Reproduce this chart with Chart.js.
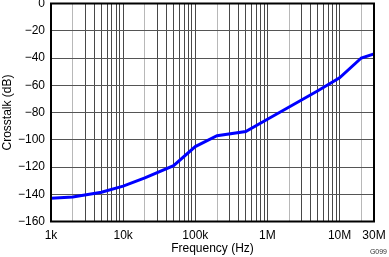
<!DOCTYPE html>
<html>
<head>
<meta charset="utf-8">
<script src="https://cdn.jsdelivr.net/npm/chart.js@4"></script>
<style>
  html, body { margin: 0; padding: 0; background: #fff; }
  #wrap { position: relative; width: 389px; height: 257px; }
</style>
</head>
<body>
<div id="wrap"><canvas id="chart" width="389" height="257"></canvas></div>
<script>
// crosstalk vs frequency
const freqs = [1e3, 2e3, 5e3, 1e4, 2e4, 5e4, 1e5, 2e5, 5e5, 1e6, 2e6, 5e6, 1e7, 2e7, 3e7];
const crosstalk = [-143, -142, -138.5, -134, -128, -119, -105, -97, -94, -85, -76, -64, -54.5, -40, -37];

const xTickValues = [1e3, 1e4, 1e5, 1e6, 1e7, 3e7];
const xTickLabels = ['1k', '10k', '100k', '1M', '10M', '30M'];

// grid lines at every 1..9 step of each decade
const gridFreqs = [];
for (let d = 1e3; d < 3e7; d *= 10) {
    for (let m = 1; m <= 9; m++) {
        if (d * m <= 3e7) gridFreqs.push(d * m);
    }
}
if (gridFreqs.indexOf(3e7) < 0) gridFreqs.push(3e7);

function mantissa(v) {
    const p = Math.pow(10, Math.floor(Math.log10(v) + 1e-9));
    return Math.round(v / p);
}

const frame = {
    id: 'frame',
    afterDraw(chart) {
        const c = chart.ctx, a = chart.chartArea;
        c.save();
        c.strokeStyle = '#000';
        c.lineWidth = 2;
        c.strokeRect(a.left, a.top, a.right - a.left, a.bottom - a.top);
        c.fillStyle = '#333';
        c.font = '7px "Liberation Sans", Arial, sans-serif';
        c.textAlign = 'right';
        c.textBaseline = 'middle';
        c.fillText('G099', 387, 252);
        c.restore();
    }
};

const ctx = document.getElementById('chart').getContext('2d');
const chart = new Chart(ctx, {
    type: 'line',
    data: {
        datasets: [{
            data: freqs.map((f, i) => ({x: f, y: crosstalk[i]})),
            borderColor: '#0000ff',
            borderWidth: 3,
            pointRadius: 0,
            tension: 0,
            fill: false
        }]
    },
    options: {
        responsive: false,
        animation: false,
        layout: {padding: {left: 0, right: 15, top: 3.5, bottom: 0}},
        plugins: {legend: {display: false}, tooltip: {enabled: false}},
        scales: {
            x: {
                type: 'logarithmic',
                min: 1e3,
                max: 3e7,
                afterBuildTicks: s => { s.ticks = gridFreqs.map(v => ({value: v})); },
                afterFit: s => { s.height = 35.5; s.paddingLeft = 0; s.paddingRight = 0; },
                ticks: {
                    autoSkip: false,
                    maxRotation: 0,
                    padding: 7,
                    color: '#000',
                    font: {family: '"Liberation Sans", Arial, sans-serif', size: 12},
                    callback: v => {
                        const i = xTickValues.indexOf(v);
                        return i >= 0 ? xTickLabels[i] : '';
                    }
                },
                grid: {
                    drawTicks: false,
                    lineWidth: 1,
                    color: c => (c.tick && mantissa(c.tick.value) === 2) ? '#b8b8b8' : '#484848'
                },
                border: {display: false},
                title: {
                    display: true,
                    text: 'Frequency (Hz)',
                    color: '#000',
                    padding: {top: 0, bottom: 1},
                    font: {family: '"Liberation Sans", Arial, sans-serif', size: 12}
                }
            },
            y: {
                min: -160,
                max: 0,
                afterFit: s => { s.width = 51; s.paddingTop = 0; s.paddingBottom = 0; },
                ticks: {
                    stepSize: 20,
                    padding: 6,
                    color: '#000',
                    font: {family: '"Liberation Sans", Arial, sans-serif', size: 12},
                    callback: v => v < 0 ? '\u2212' + (-v) : String(v)
                },
                grid: {drawTicks: false, lineWidth: 1, color: '#555'},
                border: {display: false},
                title: {
                    display: true,
                    text: 'Crosstalk (dB)',
                    color: '#000',
                    padding: {top: 0, bottom: 1},
                    font: {family: '"Liberation Sans", Arial, sans-serif', size: 12}
                }
            }
        }
    },
    plugins: [frame]
});
</script>
</body>
</html>
